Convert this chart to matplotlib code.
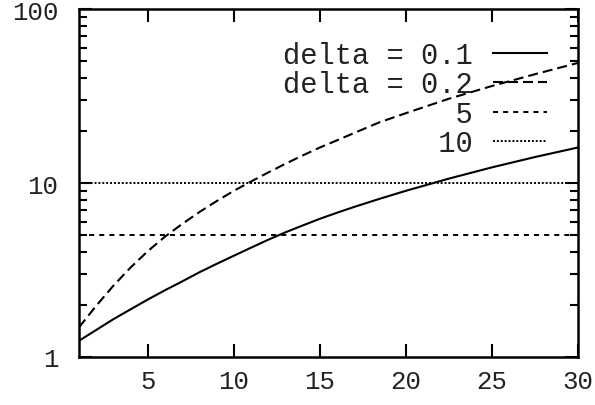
import matplotlib
matplotlib.use("Agg")
import matplotlib.pyplot as plt
from matplotlib.ticker import LogLocator, FixedLocator, NullFormatter

# Data
x_01 = [1, 2, 3, 4, 5, 6, 7, 8, 9, 10, 11, 12, 13, 14, 15, 16, 17, 18.5, 20, 21.6, 22.5,
        25, 27.5, 30]
delta_01 = [1.24, 1.43, 1.65, 1.88, 2.14, 2.42, 2.72, 3.07, 3.43, 3.82, 4.25, 4.72, 5.21,
            5.70, 6.23, 6.75, 7.29, 8.13, 9.02, 10.0, 10.6, 12.3, 14.1, 16.0]
x_02 = [1, 2, 3, 4, 5, 6, 7, 8, 9, 10, 11, 12, 13, 14, 15, 16, 17, 18.5, 20, 22.5, 25,
        27.5, 30]
delta_02 = [1.48, 1.97, 2.57, 3.27, 4.06, 4.92, 5.82, 6.81, 7.87, 9.02, 10.2, 11.5, 12.9,
            14.4, 16.0, 17.6, 19.4, 22.4, 25.2, 30.5, 36.1, 42.2, 49.0]
level_5 = 5
level_10 = 10
labels = ["delta = 0.1", "delta = 0.2", "5", "10"]
x_ticks = [5, 10, 15, 20, 25, 30]
y_ticks = [1, 10, 100]
y_ticklabels = ["1", "10", "100"]

FONT = "Liberation Mono"

fig = plt.figure(figsize=(5.95, 4.06), dpi=100)
ax = fig.add_axes([79 / 595, 48 / 406, 499 / 595, 348 / 406])

l1, = ax.plot(x_01, delta_01, color="black", lw=1.5, solid_joinstyle="round")
l2, = ax.plot(x_02, delta_02, color="black", lw=1.5, dashes=(4.8, 2.4))
l3 = ax.axhline(level_5, color="black", lw=1.4, dashes=(2.6, 2.6))
l4 = ax.axhline(level_10, color="black", lw=1.4, dashes=(1.0, 1.0))

ax.set_yscale("log")
ax.set_xlim(1, 30)
ax.set_ylim(1, 100)

ax.xaxis.set_major_locator(FixedLocator(x_ticks))
ax.set_xticklabels([str(t) for t in x_ticks])
ax.yaxis.set_major_locator(FixedLocator(y_ticks))
ax.set_yticklabels(y_ticklabels)
ax.yaxis.set_minor_locator(LogLocator(base=10, subs=range(2, 10)))
ax.yaxis.set_minor_formatter(NullFormatter())

ax.tick_params(which="both", direction="in", top=True, right=True, width=1.5, color="black")
ax.tick_params(which="major", length=9.5)
ax.tick_params(which="minor", length=6)
ax.tick_params(axis="y", which="major", pad=15)
ax.tick_params(axis="x", which="major", pad=9)
for lab in ax.get_xticklabels() + ax.get_yticklabels():
    lab.set_fontfamily(FONT)
    lab.set_fontsize(18.5)
    lab.set_color("#222222")

for sp in ax.spines.values():
    sp.set_linewidth(1.8)
    sp.set_color("black")

width = max(len(s) for s in labels)
padded = [s.rjust(width) for s in labels]
leg = ax.legend([l1, l2, l3, l4], padded, loc="upper right",
                bbox_to_anchor=(0.938, 0.908), frameon=False,
                markerfirst=False, handlelength=1.88, handletextpad=0.7,
                borderpad=0, borderaxespad=0, labelspacing=0.05,
                prop={"family": FONT, "size": 20.7})
for t in leg.get_texts():
    t.set_color("#222222")

fig.savefig("out.png", dpi=100)
